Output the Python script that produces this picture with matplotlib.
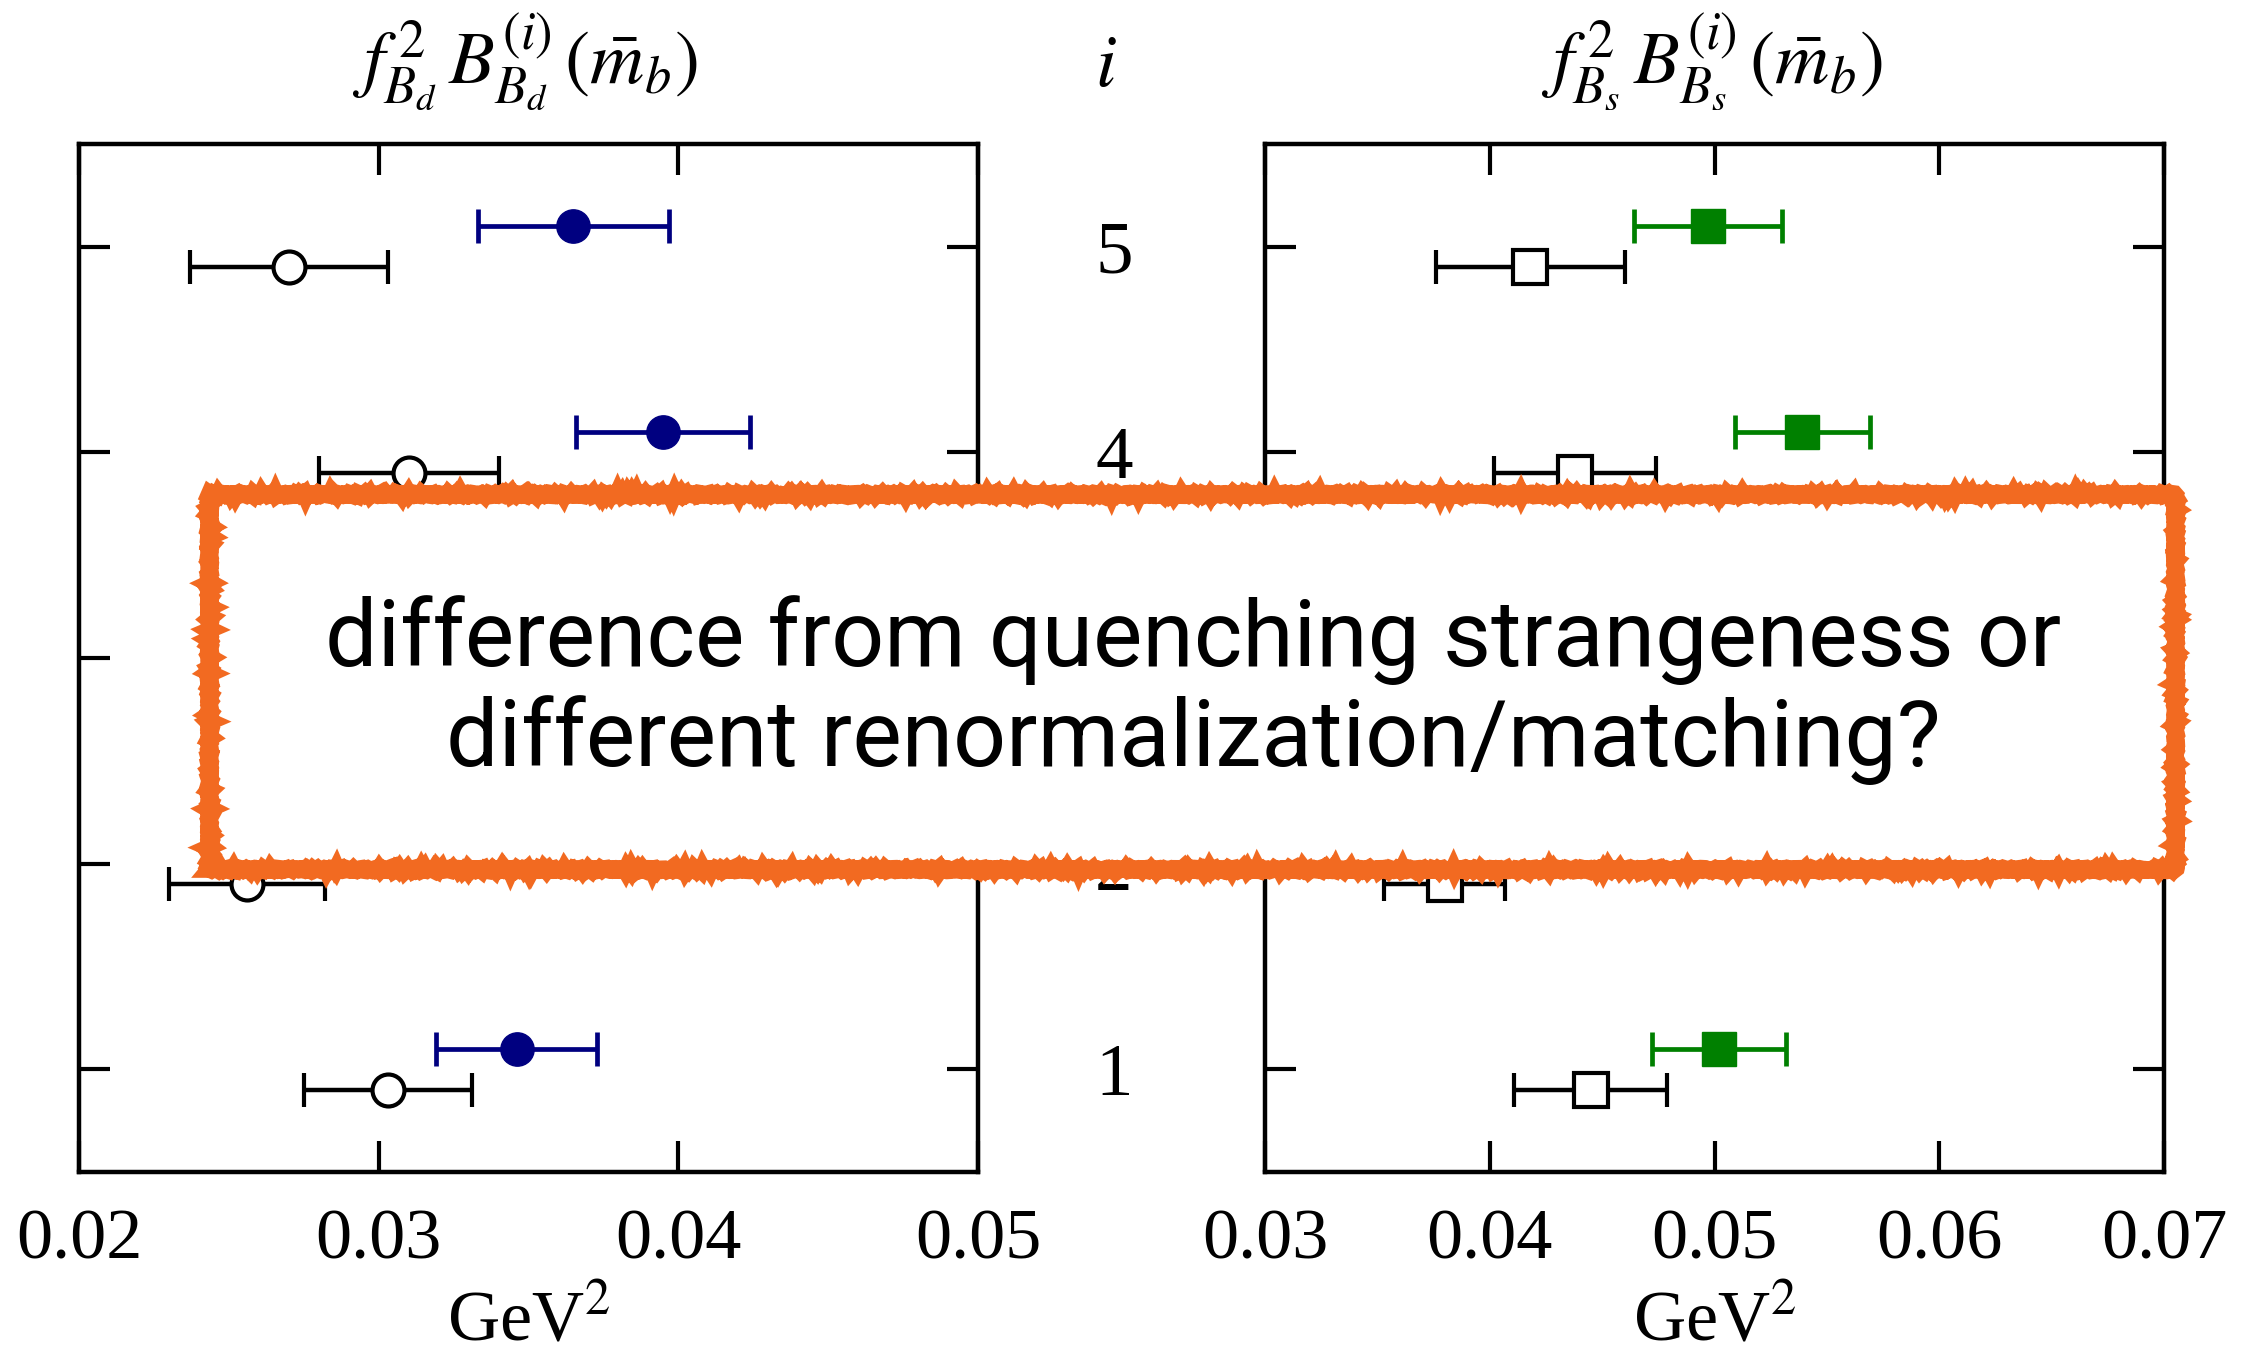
import matplotlib
matplotlib.use("Agg")
import matplotlib.pyplot as plt
from matplotlib.patches import Rectangle
from matplotlib.transforms import blended_transform_factory

plt.rcParams["font.family"] = ["Liberation Serif", "DejaVu Serif"]
plt.rcParams["mathtext.fontset"] = "stix"

# operator index i
idx = [1, 2, 3, 4, 5]
# index labels that are not hidden behind the note box
shown_idx = [1, 2, 4, 5]

# B_d panel (GeV^2): filled = blue series, open = black series
bd_fill = [0.0346, 0.0305, 0.0360, 0.0395, 0.0365]
bd_fill_err = [0.0027, 0.0025, 0.0030, 0.0029, 0.0032]
bd_open = [0.0303, 0.0256, 0.0300, 0.0310, 0.0270]
bd_open_err = [0.0028, 0.0026, 0.0030, 0.0030, 0.0033]

# B_s panel (GeV^2): filled = green series, open = black series
bs_fill = [0.0502, 0.0450, 0.0520, 0.0539, 0.0497]
bs_fill_err = [0.0030, 0.0030, 0.0032, 0.0030, 0.0033]
bs_open = [0.0445, 0.0380, 0.0420, 0.0438, 0.0418]
bs_open_err = [0.0034, 0.0027, 0.0035, 0.0036, 0.0042]

bd_xticks = [0.02, 0.03, 0.04, 0.05]
bs_xticks = [0.03, 0.04, 0.05, 0.06, 0.07]

NOTE = "difference from quenching strangeness or\ndifferent renormalization/matching?"

W, H = 2255, 1361
fig = plt.figure(figsize=(W / 100, H / 100), dpi=100)


def fx(px):
    return px / W


def fy(py):
    return 1 - py / H


ax_l = fig.add_axes([fx(79), fy(1172), fx(978 - 79), (1172 - 144) / H])
ax_r = fig.add_axes([fx(1265), fy(1172), fx(2164 - 1265), (1172 - 144) / H])

off = 0.1
y_fill = [v + off for v in idx]
y_open = [v - off for v in idx]


def draw_panel(ax, fill, fill_err, opn, opn_err, color, marker, xticks):
    ax.errorbar(opn, y_open, xerr=opn_err, fmt=marker, color="black", mfc="white",
                mec="black", mew=3, ms=23 if marker == "o" else 25, lw=3.2,
                capsize=12, capthick=3.2, zorder=3)
    ax.errorbar(fill, y_fill, xerr=fill_err, fmt=marker, color=color, mfc=color,
                mec=color, ms=24, lw=3.4, capsize=12, capthick=3.4, zorder=4)
    ax.set_xlim(xticks[0], xticks[-1])
    ax.set_ylim(0.5, 5.5)
    ax.set_xticks(xticks)
    ax.set_xticklabels([f"{t:.2f}" for t in xticks])
    ax.set_yticks(idx)
    ax.set_yticklabels([])
    ax.tick_params(axis="both", direction="in", length=22, width=3,
                   top=True, right=True, labelsize=52, pad=26)
    for sp in ax.spines.values():
        sp.set_linewidth(3.2)
    ax.set_xlabel(r"GeV$^2$", fontsize=52, labelpad=10)


draw_panel(ax_l, bd_fill, bd_fill_err, bd_open, bd_open_err, "#000080", "o", bd_xticks)
draw_panel(ax_r, bs_fill, bs_fill_err, bs_open, bs_open_err, "#008000", "s", bs_xticks)

fig.text(fx(525), fy(62), r"$f^{\,2}_{B_d}\,B^{(i)}_{B_d}\,(\bar{m}_b)$",
         ha="center", va="center", fontsize=54)
fig.text(fx(1712), fy(62), r"$f^{\,2}_{B_s}\,B^{(i)}_{B_s}\,(\bar{m}_b)$",
         ha="center", va="center", fontsize=54)
fig.text(fx(1106), fy(68), r"$i$", ha="center", va="center", fontsize=54)

trans = blended_transform_factory(fig.transFigure, ax_l.transData)
for v in shown_idx:
    ax_l.text(fx(1114), v - 0.04, str(v), transform=trans, ha="center", va="center",
              fontsize=54, clip_on=False)

# annotation box on top
box = Rectangle((fx(209), fy(869)), fx(2175 - 209), (869 - 494) / H,
                transform=fig.transFigure, facecolor="white", edgecolor="#F26A21",
                linewidth=12, zorder=10)
box.set_sketch_params(scale=1.2, length=6, randomness=3)
fig.add_artist(box)
fig.text(fx(1193), fy(690), NOTE, ha="center", va="center", fontsize=67,
         family=["Roboto", "Liberation Sans", "DejaVu Sans"], fontweight="normal",
         linespacing=1.15, zorder=11)

fig.savefig("out.png", dpi=100)
